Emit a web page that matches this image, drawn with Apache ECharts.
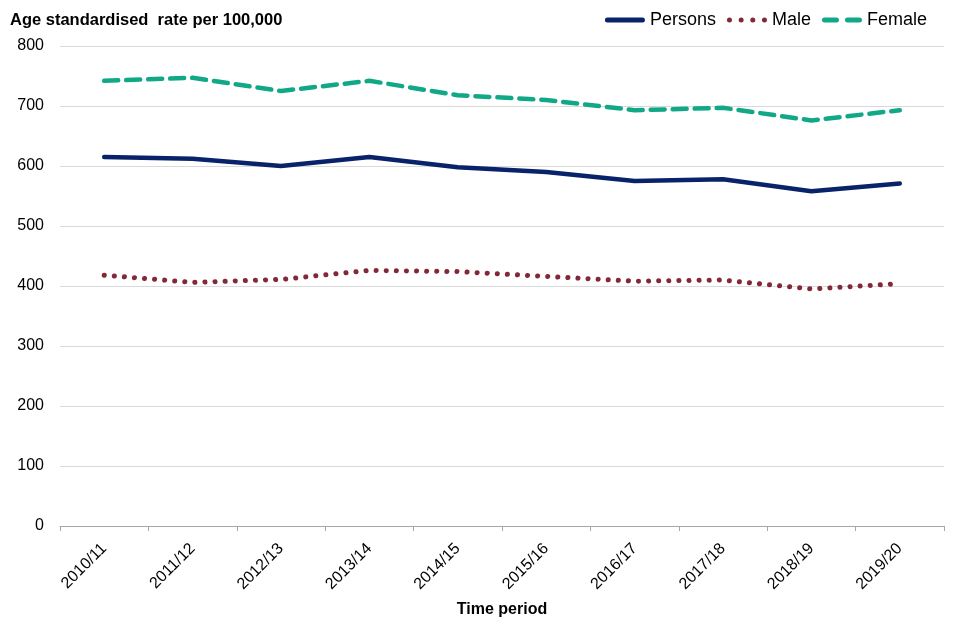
<!DOCTYPE html>
<html>
<head>
<meta charset="utf-8">
<script src="https://cdn.jsdelivr.net/npm/echarts@6/dist/echarts.min.js"></script>
<style>html,body{margin:0;padding:0;background:#fff}#c{width:960px;height:640px}</style>
</head>
<body>
<div id="c"></div>
<script>
var categories = ['2010/11','2011/12','2012/13','2013/14','2014/15','2015/16','2016/17','2017/18','2018/19','2019/20'];
var persons = [615, 612, 600, 615, 598, 590, 575, 578, 558, 571];
var male = [418, 406, 411, 426, 424, 416, 408, 410, 395, 404];
var female = [742, 747, 725, 742, 718, 710, 693, 697, 676, 693];
var yTicks = [0, 100, 200, 300, 400, 500, 600, 700, 800];

var colPersons = '#082369', colMale = '#822838', colFemale = '#11a887';
var iconSolid = 'path://M2.5,0 H37.5 A2.5,2.5 0 0 1 37.5,5 H2.5 A2.5,2.5 0 0 1 2.5,0 Z';
var iconDots = 'path://M0,2.5 A2.5,2.5 0 1 0 5,2.5 A2.5,2.5 0 1 0 0,2.5 Z M11.67,2.5 A2.5,2.5 0 1 0 16.67,2.5 A2.5,2.5 0 1 0 11.67,2.5 Z M23.33,2.5 A2.5,2.5 0 1 0 28.33,2.5 A2.5,2.5 0 1 0 23.33,2.5 Z M35,2.5 A2.5,2.5 0 1 0 40,2.5 A2.5,2.5 0 1 0 35,2.5 Z';
var iconDash = 'path://M2.5,0 H14.5 A2.5,2.5 0 0 1 14.5,5 H2.5 A2.5,2.5 0 0 1 2.5,0 Z M25.5,0 H37.5 A2.5,2.5 0 0 1 37.5,5 H25.5 A2.5,2.5 0 0 1 25.5,0 Z';

var chart = echarts.init(document.getElementById('c'));
var font = 'Liberation Sans, Arial, sans-serif';
chart.setOption({
  animation: false,
  textStyle: {fontFamily: font},
  title: {
    text: 'Age standardised  rate per 100,000',
    left: 10, top: 12, padding: 0,
    textStyle: {fontSize: 16.5, fontWeight: 'bold', color: '#000', fontFamily: font}
  },
  legend: {
    right: 33, top: 11, padding: 0,
    itemWidth: 40, itemHeight: 5, itemGap: 11,
    textStyle: {fontSize: 18, color: '#000', fontFamily: font},
    data: [
      {name: 'Persons', icon: iconSolid, itemStyle: {color: colPersons}},
      {name: 'Male', icon: iconDots, itemStyle: {color: colMale}},
      {name: 'Female', icon: iconDash, itemStyle: {color: colFemale}}
    ]
  },
  grid: {left: 60, right: 16, top: 46, bottom: 114},
  xAxis: {
    type: 'category',
    data: categories,
    boundaryGap: true,
    name: 'Time period',
    nameLocation: 'middle',
    nameGap: 76,
    nameTextStyle: {fontSize: 16, fontWeight: 'bold', color: '#000', fontFamily: font},
    axisLine: {lineStyle: {color: '#a6a6a6', width: 1}},
    axisTick: {show: true, alignWithLabel: false, length: 5, lineStyle: {color: '#a6a6a6'}},
    axisLabel: {rotate: 45, fontSize: 16, color: '#000', fontFamily: font, margin: 20}
  },
  yAxis: {
    type: 'value',
    min: 0, max: 800, interval: 100,
    axisLine: {show: false},
    axisTick: {show: false},
    splitLine: {lineStyle: {color: '#d9d9d9', width: 1}},
    axisLabel: {fontSize: 16, color: '#000', fontFamily: font, margin: 16,
      formatter: function(v){ return yTicks.indexOf(v) >= 0 ? String(v) : ''; }}
  },
  series: [
    {name: 'Persons', type: 'line', data: persons, symbol: 'none',
     lineStyle: {color: colPersons, width: 4.5, type: 'solid', cap: 'round'},
     itemStyle: {color: colPersons}},
    {name: 'Male', type: 'line', data: male, symbol: 'none',
     lineStyle: {color: colMale, width: 5, type: [0.1, 10], cap: 'round'},
     itemStyle: {color: colMale}},
    {name: 'Female', type: 'line', data: female, symbol: 'none',
     lineStyle: {color: colFemale, width: 4.5, type: [14, 8], cap: 'round'},
     itemStyle: {color: colFemale}}
  ]
});
</script>
</body>
</html>
